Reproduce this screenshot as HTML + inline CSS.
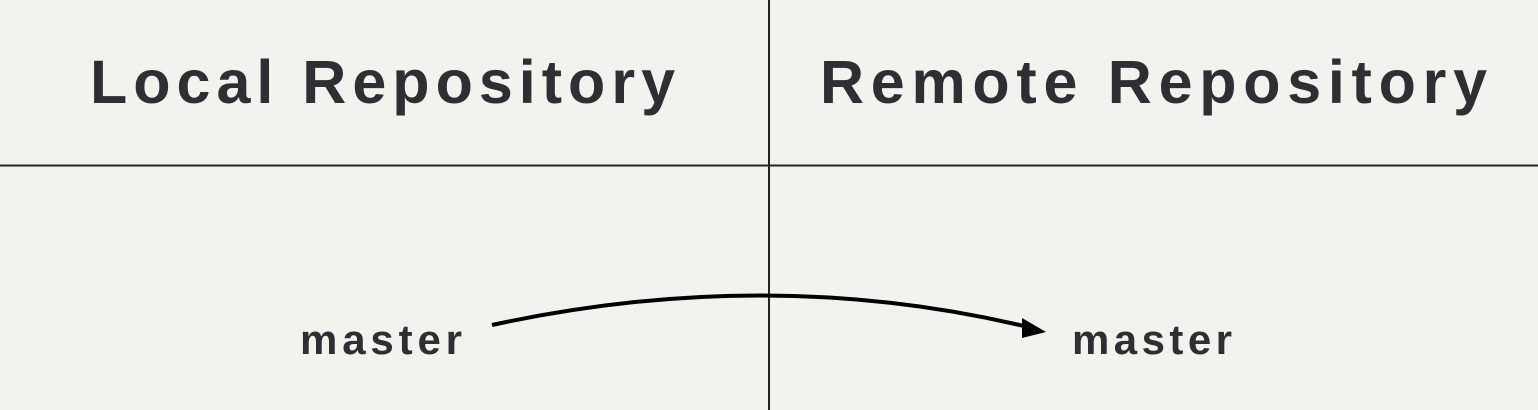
<!DOCTYPE html>
<html><head><meta charset="utf-8"><style>
html,body{margin:0;padding:0;background:#f2f2ee;}
svg{display:block}
text{font-family:"Liberation Sans",sans-serif;font-weight:bold;fill:#2e2e33}
</style></head><body>
<svg width="1538" height="410" viewBox="0 0 1538 410">
<rect width="1538" height="410" fill="#f2f2ee"/>
<line x1="769" y1="0" x2="769" y2="410" stroke="#222" stroke-width="2"/>
<line x1="0" y1="165.5" x2="1538" y2="165.5" stroke="#222" stroke-width="2"/>
<text x="90" y="103" font-size="61" textLength="585" lengthAdjust="spacing">Local Repository</text>
<text x="820" y="103" font-size="61" textLength="667" lengthAdjust="spacing">Remote Repository</text>
<text x="300" y="354" font-size="42" textLength="162" lengthAdjust="spacing">master</text>
<text x="1072" y="354" font-size="42" textLength="160" lengthAdjust="spacing">master</text>
<path d="M492 325 Q769 265 1028 327" fill="none" stroke="#000" stroke-width="4"/>
<polygon points="1046,332 1022,318 1022,338" fill="#000"/>
</svg>
</body></html>
